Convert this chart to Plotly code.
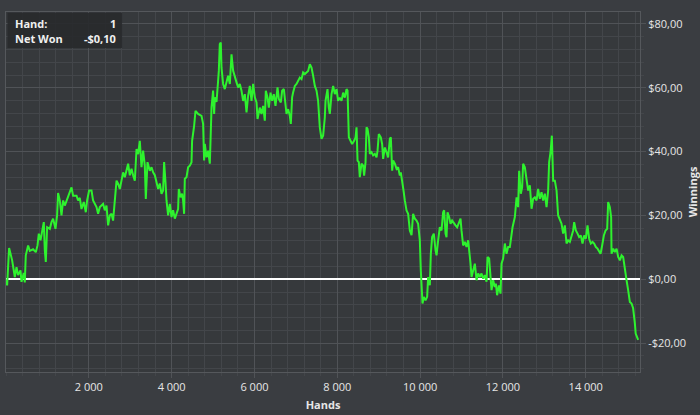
import plotly.graph_objects as go

# ---- data ----
hands = [1, 27, 75, 147, 213, 254, 292, 350, 374, 430, 454, 478, 534, 575, 654, 720, 761, 792, 833, 881,
         913, 937, 961, 993, 1058, 1099, 1137, 1195, 1234, 1258, 1299, 1340, 1379, 1420, 1500, 1582, 1620,
         1703, 1741, 1782, 1823, 1879, 1927, 1959, 2007, 2065, 2103, 2186, 2224, 2265, 2345, 2386, 2427,
         2466, 2507,
         2548, 2586, 2628, 2669, 2707, 2748, 2789, 2828, 2869, 2910, 2949, 2990, 3031, 3069, 3111, 3152,
         3190, 3231, 3272, 3311, 3352, 3376, 3417, 3473, 3514, 3553, 3594, 3635, 3673, 3714, 3755, 3794,
         3818, 3852, 3876, 3915, 3956, 3997, 4035, 4077, 4118, 4156, 4173, 4214, 4253, 4277, 4301, 4318,
         4359, 4398, 4439, 4480, 4494, 4518, 4543, 4576, 4639, 4721, 4760, 4784,
         4801, 4842, 4881, 4922, 4946, 4963, 5001, 5026, 5043, 5084, 5122, 5139, 5163, 5187, 5204, 5243,
         5284, 5325, 5364, 5405, 5446, 5485, 5526, 5567, 5606, 5646, 5687, 5726, 5767, 5808, 5847, 5888,
         5929, 5968, 6009, 6050, 6074, 6129, 6170, 6209, 6250, 6274, 6315, 6347, 6388, 6426, 6467, 6508,
         6557, 6588, 6637, 6668, 6709, 6750, 6774, 6813, 6854, 6878, 6909, 6933, 6975, 7016, 7054, 7095,
         7136, 7175,
         7216, 7296, 7337, 7378, 7416, 7458, 7499, 7537, 7578, 7619, 7658, 7699, 7716, 7764, 7795, 7820,
         7861, 7900, 7941, 7982, 8020, 8061, 8102, 8141, 8182, 8223, 8247, 8262, 8279, 8320, 8358, 8407,
         8441, 8465, 8489, 8520, 8544, 8585, 8624, 8648, 8682, 8706, 8730, 8762, 8786, 8827, 8866, 8907,
         8948, 8972, 9003, 9051, 9083, 9107, 9148, 9189, 9228, 9269, 9293, 9325, 9349, 9390, 9431, 9469,
         9510, 9534, 9566, 9600, 9631, 9672, 9711,
         9752, 9793, 9831, 9873, 9914, 9952, 9993, 10017, 10042, 10058, 10090, 10131, 10170, 10194, 10235,
         10259, 10290, 10331, 10372, 10397, 10435, 10476, 10517, 10556, 10580, 10614, 10638, 10662, 10701,
         10735, 10773, 10814, 10855, 10894, 10935, 10976, 11000, 11039, 11080, 11121, 11160, 11184, 11218,
         11242, 11280, 11322, 11363, 11401, 11442, 11483, 11522, 11563, 11604, 11628, 11667, 11701, 11725,
         11764, 11805, 11829, 11860, 11901, 11942, 11966, 12005, 12046, 12087, 12126,
         12167, 12232, 12288, 12329, 12367, 12392, 12432, 12464, 12488, 12529, 12570, 12609, 12650, 12691,
         12730, 12771, 12812, 12850, 12891, 12932, 12971, 13012, 13053, 13092, 13116, 13150, 13181, 13198,
         13213, 13254, 13295, 13333, 13374, 13415, 13454, 13495, 13536, 13575, 13616, 13657, 13696, 13720,
         13761, 13802, 13840, 13881, 13922, 13961, 14002, 14043, 14082, 14123, 14164, 14203, 14244, 14285,
         14323, 14357, 14396, 14437, 14478, 14517, 14541, 14582, 14613, 14623, 14662, 14703, 14744, 14783,
         14824, 14865, 14903, 14944, 14985, 15024, 15065, 15106, 15144, 15186, 15206, 15251, 15266]

winnings = [-0.1, -1.9, 9.8, 6.0, 0.7, 3.8, 1.3, 2.8, -0.8, 2.0, -1.0, 7.5, 10.6, 8.9, 9.4, 8.5, 10.6, 14.3,
            12.2, 15.3, 17.9, 9.1, 5.4, 16.3, 15.8, 17.9, 19.0, 15.8, 20.0, 27.0, 24.7, 20.0, 24.7, 23.1,
            26.2, 28.8, 26.2, 26.2, 24.7, 25.5, 22.0, 24.2, 21.0, 24.7, 27.8, 27.8, 24.7, 22.6, 20.5, 22.6,
            23.6, 21.6, 23.1, 16.9, 20.0,
            20.5, 18.4, 26.2, 30.9, 30.0, 28.3, 30.9, 33.5, 32.0, 34.0, 36.2, 32.6, 34.6, 32.6, 30.9, 40.8,
            39.2, 43.4, 35.1, 40.3, 35.6, 25.2, 36.7, 34.0, 35.1, 33.5, 32.6, 30.4, 28.3, 30.0, 26.8, 27.8,
            36.7, 30.4, 24.7, 20.0, 23.6, 19.5, 21.6, 19.0, 20.5, 22.0, 28.3, 25.7, 26.8, 24.7, 20.5, 31.5,
            32.0, 35.1, 35.6, 36.7, 43.4, 45.5, 48.1, 52.8, 51.8, 51.2, 48.7, 37.2,
            42.4, 38.2, 40.3, 36.2, 43.4, 53.8, 59.1, 51.8, 57.0, 55.6, 62.2, 65.3, 73.7, 74.2, 66.3, 61.2,
            59.6, 62.2, 63.8, 61.2, 70.5, 65.3, 63.2, 61.7, 60.1, 61.2, 59.1, 55.9, 58.0, 52.3, 57.5, 60.6,
            55.9, 61.2, 57.0, 55.4, 50.2, 53.8, 51.8, 54.3, 49.7, 59.1, 57.0, 53.8, 58.5, 55.9, 58.0, 54.3,
            60.1, 56.5, 55.4, 59.1, 59.6, 55.4, 51.8, 53.3, 51.2, 48.7, 57.0, 58.5, 60.6, 61.2, 62.2, 63.2,
            62.7, 64.8,
            64.3, 65.3, 67.4, 66.3, 63.8, 60.6, 59.1, 55.9, 47.6, 44.0, 45.0, 50.7, 55.9, 59.6, 53.8, 51.8,
            58.0, 60.6, 58.0, 59.6, 55.9, 56.9, 55.9, 58.5, 56.9, 59.6, 59.1, 50.7, 44.5, 43.4, 42.4, 43.4,
            44.5, 47.6, 37.2, 36.7, 32.0, 36.2, 35.6, 32.5, 36.7, 47.6, 47.1, 44.5, 39.3, 39.8, 38.8, 39.3,
            38.2, 40.3, 45.5, 44.5, 42.4, 37.7, 41.3, 39.8, 38.2, 44.0, 44.5, 34.0, 37.2, 36.2, 34.6, 35.1,
            32.5, 33.5, 29.9, 27.8, 24.7, 21.6, 20.5,
            15.3, 13.8, 20.5, 19.0, 18.4, 17.4, 12.2, 2.8, -3.4, -7.6, -5.5, -6.6, -5.5, 0.7, -1.9,
            8.0, 13.2, 14.3, 9.1, 7.5, 12.2, 16.3, 15.3, 21.0, 21.6, 14.3, 13.2, 21.0, 19.5,
            17.4, 18.4, 17.4, 16.9, 16.3, 17.9, 19.0, 15.3, 10.6, 11.7, 10.1, 12.2, 9.6, 4.9,
            0.7, 2.8, 4.9, -0.3, 1.8, 0.7, 1.8, 0.2, 1.3, -0.8, 7.0, 6.5, -0.3, -3.4,
            -0.3, -2.4, -1.4, -5.0, -1.9, -4.5, 4.9, 6.5, 11.2, 8.0, 10.1,
            10.1, 16.3, 19.5, 25.7, 22.6, 34.0, 26.8, 28.8, 36.2, 35.1, 32.0, 27.8, 29.4, 22.1,
            25.2, 25.7, 24.7, 28.3, 25.2, 27.3, 24.7, 26.8, 22.6, 27.8, 36.7, 39.8, 45.0, 39.2,
            30.9, 30.9, 27.8, 20.0, 18.4, 17.4, 14.3, 16.9, 11.2, 12.2, 11.7, 13.2, 15.3, 17.9,
            15.3, 14.3, 13.2, 13.7, 11.2, 13.7, 12.7, 16.9, 12.7, 11.2, 11.7, 11.2, 10.1, 9.6,
            8.5, 8.0, 10.6, 13.7, 15.3, 15.8, 24.2, 22.6, 19.5, 8.0, 9.6, 8.5, 9.6, 7.0,
            5.9, 7.5, 7.0, 2.8, -0.3, -3.4, -7.1, -7.6, -9.1, -13.8, -17.0, -18.5, -19.0]

x_tick_vals = [2000, 4000, 6000, 8000, 10000, 12000, 14000]
x_tick_text = ["2 000", "4 000", "6 000", "8 000", "10 000", "12 000", "14 000"]
y_tick_vals = [-20, 0, 20, 40, 60, 80]
y_tick_text = ["-$20,00", "$0,00", "$20,00", "$40,00", "$60,00", "$80,00"]

info_labels = ["Hand:", "Net Won"]
info_values = ["1", "-$0,10"]

# ---- styling ----
PAPER = "#3a3d41"
PLOT = "#36393c"
GRID = "#505357"
MINOR = "#43464a"
TEXT = "#e6e6e6"
FONT = "Open Sans"

fig = go.Figure()
fig.add_trace(go.Scatter(x=hands, y=winnings, mode="lines",
                         line=dict(color="#2ef22e", width=2), hoverinfo="skip"))

fig.update_layout(
    width=700, height=415,
    margin=dict(l=6, r=60, t=12, b=43, autoexpand=False),
    paper_bgcolor=PAPER, plot_bgcolor=PLOT,
    showlegend=False,
    font=dict(family=FONT, size=11, color=TEXT),
)

fig.update_xaxes(
    range=[0, 15310],
    tickvals=x_tick_vals, ticktext=x_tick_text,
    ticks="outside", ticklen=5, tickcolor=GRID,
    showgrid=True, gridcolor=GRID, gridwidth=1,
    minor=dict(dtick=400, tick0=0, showgrid=True, gridcolor=MINOR,
               ticks="outside", ticklen=3, tickcolor=MINOR),
    showline=True, linecolor="#55585c", mirror=True, zeroline=False,
    tickfont=dict(size=11, color=TEXT),
    title=dict(text="<b>Hands</b>", standoff=8, font=dict(size=11, color=TEXT)),
)

fig.update_yaxes(
    side="right",
    range=[-29.06, 83.75],
    tickvals=y_tick_vals, ticktext=y_tick_text,
    ticks="outside", ticklen=5, tickcolor=GRID,
    showgrid=True, gridcolor=GRID, gridwidth=1,
    minor=dict(dtick=4, tick0=0, showgrid=True, gridcolor=MINOR,
               ticks="outside", ticklen=3, tickcolor=MINOR),
    showline=True, linecolor="#55585c", mirror=True,
    zeroline=True, zerolinecolor="#ffffff", zerolinewidth=2,
    tickfont=dict(size=11, color=TEXT),
    title=dict(text="<b>Winnings</b>", standoff=4, font=dict(size=11, color=TEXT)),
)

# info box (top-left)
fig.add_shape(type="rect", xref="paper", yref="paper",
              x0=0.0024, x1=0.183, y0=0.9, y1=0.998,
              fillcolor="rgba(40,42,45,0.92)", line=dict(width=0), layer="above")
ys = [0.967, 0.925]
for lab, val, yy in zip(info_labels, info_values, ys):
    fig.add_annotation(xref="paper", yref="paper", x=0.011, y=yy, text="<b>%s</b>" % lab,
                       showarrow=False, xanchor="left", yanchor="middle",
                       font=dict(size=11, color="#f0f0f0", family=FONT))
    fig.add_annotation(xref="paper", yref="paper", x=0.1767, y=yy, text="<b>%s</b>" % val,
                       showarrow=False, xanchor="right", yanchor="middle",
                       font=dict(size=11, color="#f0f0f0", family=FONT))

fig.write_html("out.html", config={"displayModeBar": False},
               post_script="document.body.style.margin='0';document.body.style.background='%s';" % PAPER)
